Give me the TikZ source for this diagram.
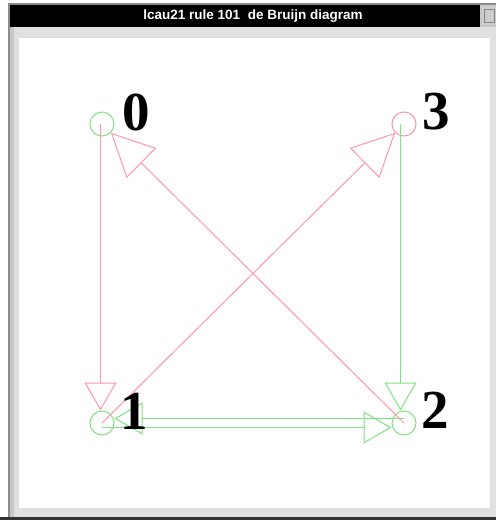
\documentclass[tikz,border=0pt]{standalone}
\usepackage{fontspec}
\newfontfamily\digitfont{Liberation Serif}
\newfontfamily\titlefont{Liberation Sans}
\usetikzlibrary{arrows.meta}
\definecolor{ered}{RGB}{255,150,170}
\definecolor{egreen}{RGB}{130,225,130}
\begin{document}
\begin{tikzpicture}[x=1pt,y=-1pt,
  vert/.style={circle,draw,minimum size=24pt,inner sep=0pt,line width=1pt},
  digit/.style={font=\digitfont\bfseries\fontsize{55}{55}\selectfont,inner sep=0pt},
  edge/.style={line width=1pt},
  smalltip/.style={-{Triangle[open,length=28pt,width=32pt,line width=1pt]}},
  bigtip/.style={-{Triangle[open,length=43pt,width=42pt,line width=1pt]}}]
\useasboundingbox (0,0) rectangle (496,520);
% window frame
\fill[white] (0,0) rectangle (496,520);
\fill[black!45] (8,3) rectangle (496,520);
\fill[black!22] (10,5) rectangle (496,517);
\fill[black!12] (14,27) rectangle (496,517);
\fill[black!80] (0,517) rectangle (496,520);
\fill[black] (10,5) rectangle (480,27);
\fill[black!20] (481,6) rectangle (496,25);
\draw[black!50,line width=0.6pt] (484,9) rectangle (494,22);
\fill[white] (19,38) rectangle (490,508);
\node[text=white,font=\titlefont\bfseries\fontsize{13.5}{13.5}\selectfont,inner sep=0pt] (title) at (253,16) {lcau21 rule 101\ \ de Bruijn diagram};
% vertices
\node[vert,draw=egreen] (n0) at (102,124) {};
\node[vert,draw=egreen] (n1) at (102,423) {};
\node[vert,draw=egreen] (n2) at (404,423) {};
\node[vert,draw=ered] (n3) at (404,124) {};
% edges
\draw[edge,ered,smalltip] ([xshift=-1.5pt]n0.center) -- ([xshift=-1.5pt]n1.north);
\draw[edge,egreen,smalltip] ([xshift=-3.5pt]n3.center) -- ([xshift=-3.5pt]n2.north);
\draw[edge,ered,bigtip] (n1.center) -- (n3);
\draw[edge,ered,bigtip] (n2.center) -- (n0);
\draw[edge,egreen,smalltip] ([yshift=-4.5pt]n1.center) -- ([yshift=-4.5pt]n2.west);
\draw[edge,egreen,smalltip] ([yshift=4.5pt]n2.center) -- ([yshift=4.5pt]n1.east);
% labels
\node[digit] (l0) at (136,112) {0};
\node[digit] (l3) at (436,112) {3};
\node[digit] (l1) at (134,411) {1};
\node[digit] (l2) at (435,410) {2};
\end{tikzpicture}
\end{document}
